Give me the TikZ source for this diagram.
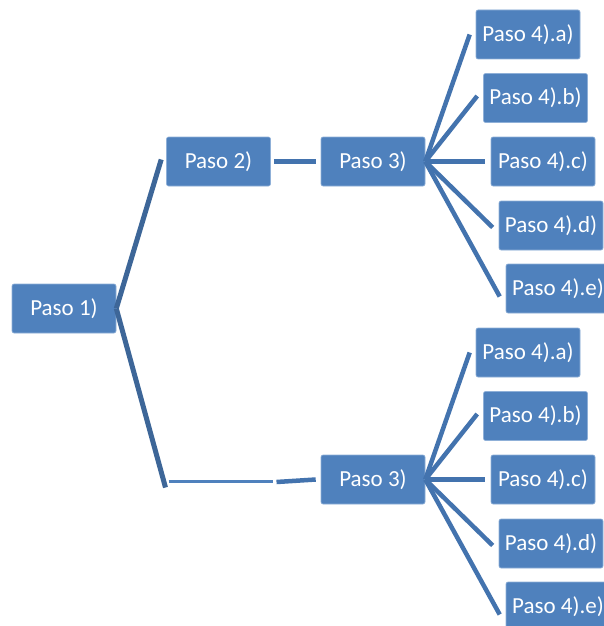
\documentclass[tikz,border=0pt]{standalone}
\usepackage{fontspec}
\setmainfont{Carlito}
\definecolor{boxblue}{HTML}{4F81BD}
\definecolor{boxedge}{HTML}{8FB0D8}
\definecolor{linkblue}{HTML}{4373AE}
\definecolor{linkdark}{HTML}{3D6698}
\begin{document}
\begin{tikzpicture}[x=1pt,y=-1pt,
  stepbox/.style={rectangle, rounded corners=2pt, fill=boxblue, draw=boxedge, line width=0.6pt,
    minimum width=104pt, minimum height=49pt, inner sep=0pt, text=white,
    font=\fontsize{23}{27}\selectfont},
  link/.style={draw=linkblue, line width=4.5pt},
  linkd/.style={draw=linkdark, line width=5pt},
  thin link/.style={draw=boxblue, line width=2.8pt}]
\useasboundingbox (0,0) rectangle (603,626);
\fill[white] (0,0) rectangle (603,626);

% nodes
\node[stepbox] (p1) at (64,308.5) {Paso 1)};
\node[stepbox] (p2) at (218.5,161.5) {Paso 2)};
\node[stepbox] (p3t) at (373,161.5) {Paso 3)};
\node[stepbox] (p3b) at (373,479.5) {Paso 3)};
\coordinate (ghost) at (218.5,481.5);

\foreach \dy/\s in {0/t,318/b}{
  \node[stepbox] (a\s) at (528,34.5+\dy) {Paso 4).a)};
  \node[stepbox] (b\s) at (535.5,98+\dy) {Paso 4).b)};
  \node[stepbox] (c\s) at (543,161.5+\dy) {Paso 4).c)};
  \node[stepbox] (d\s) at (551,225.5+\dy) {Paso 4).d)};
  \node[stepbox] (e\s) at (558,288.5+\dy) {Paso 4).e)};
}

% connectors
\draw[linkd] (p1.east) -- ([xshift=-5pt,yshift=2pt]p2.west);
\draw[linkd] (p1.east) -- ([xshift=-53pt,yshift=-6pt]ghost);
\draw[thin link] ([xshift=-50pt]ghost) -- ([xshift=54pt]ghost);
\draw[link] ([xshift=58pt,yshift=-0.5pt]ghost) -- ([xshift=-5pt]p3b.west);
\draw[link] ([xshift=3pt]p2.east) -- ([xshift=-5pt]p3t.west);

\foreach \s in {t,b}{
  \draw[link] (p3\s.east) -- ([xshift=-6pt]a\s.west);
  \draw[link] (p3\s.east) -- ([xshift=-6pt,yshift=2pt]b\s.west);
  \draw[link] (p3\s.east) -- ([xshift=-6pt]c\s.west);
  \draw[link] (p3\s.east) -- ([xshift=-6pt,yshift=-2pt]d\s.west);
  \draw[link] (p3\s.east) -- ([xshift=-6pt,yshift=-8pt]e\s.west);
}
\end{tikzpicture}
\end{document}
